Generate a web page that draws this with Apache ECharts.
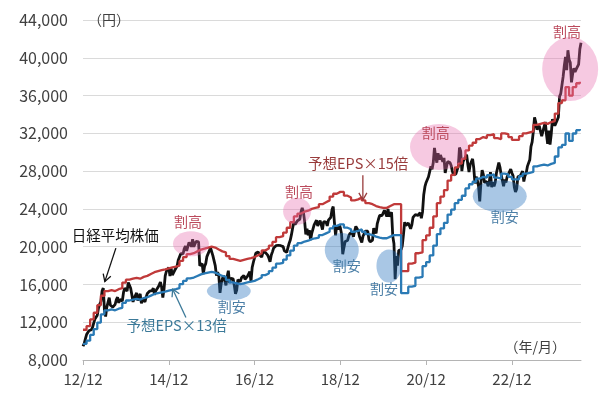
<!DOCTYPE html>
<html>
<head>
<meta charset="utf-8">
<script src="https://cdn.jsdelivr.net/npm/echarts@6/dist/echarts.min.js"></script>
<style>
  html, body { margin: 0; padding: 0; background: #fff; }
  #chart { width: 600px; height: 399px; }
</style>
</head>
<body>
<div id="chart"></div>
<script>
// 横軸は 2012年12月 = 0 とした月数
const xTickLabels = ['12/12', '14/12', '16/12', '18/12', '20/12', '22/12'];
const monthsShown = 139.33;

// 日経平均株価（1か月3点：上旬・中旬・下旬）
const nikkeiPerMonth = 3;
const nikkei = [
  9450, 9740, 10230,
  10690, 10880, 11100, 11250, 11200, 11450, 11650, 12350, 12500, 12750, 13500, 13900,
  14200, 15300, 15620, 13300, 12600, 13600, 14100, 14600, 13800, 13900, 13600, 13400,
  13900, 14400, 14650, 14050, 14400, 14350, 14250, 15150, 15620, 15650, 15300, 16200,
  15900, 15600, 14900, 14150, 14550, 14850, 15100, 14300, 14700, 15000, 14000, 14450,
  14450, 14150, 14650, 15050, 14950, 15300, 15400, 15350, 15600, 14900, 15300, 15500,
  15700, 15950, 16250, 15700, 14600, 15500, 16900, 17400, 17300, 17800, 16900, 17700,
  17000, 17100, 17500, 17600, 17950, 18600, 18800, 19250, 19450, 19250, 19800, 20050,
  19550, 19750, 20450, 20500, 20000, 20800, 20000, 20300, 20550, 20550, 20500, 18000,
  17800, 18200, 17100, 17900, 18200, 18950, 19100, 19550, 19900, 19950, 19050, 18950,
  18000, 16950, 17300, 16900, 15100, 16100, 16600, 16950, 16950, 15900, 16850, 17450,
  16150, 16650, 16850, 16600, 15900, 15000, 15400, 16500, 16600, 16300, 16700, 16550,
  16950, 16550, 16600, 16850, 17050, 17350, 16300, 17800, 18350, 18500, 19300, 19420,
  19450, 19150, 19050, 18900, 19400, 19300, 19400, 19550, 19100, 18800, 18400, 19100,
  19450, 19850, 19700, 20100, 19900, 20150, 20050, 20100, 20000, 20000, 19550, 19450,
  19400, 19900, 20350, 20700, 21300, 22000, 22600, 22350, 22550, 22750, 22800, 22900,
  23700, 24100, 23650, 22700, 21300, 21900, 21200, 21750, 20700, 21400, 21850, 22300,
  22500, 22800, 22200, 22500, 22750, 22300, 21800, 22650, 22550, 22600, 22200, 22800,
  22700, 23100, 23900, 24250, 22600, 21200, 22250, 21800, 22350, 22000, 21350, 19200,
  19900, 20550, 20750, 20650, 21100, 21400, 21550, 21450, 21050, 21650, 22150, 22250,
  21700, 21100, 21100, 20450, 21100, 21250, 21650, 21500, 21650, 20750, 20500, 20700,
  20700, 21950, 21850, 21400, 22450, 22900, 23300, 23400, 23300, 23350, 23850, 23650,
  23200, 24000, 23200, 23300, 23650, 21100, 20300, 16550, 19000, 18000, 19600, 19400,
  19700, 20100, 21300, 22600, 22250, 22300, 22500, 22700, 21900, 22300, 23100, 23000,
  23400, 23350, 23300, 23300, 23600, 23000, 23700, 25500, 26350, 26800, 26700, 27400,
  27500, 28500, 28200, 28900, 30450, 29500, 28900, 29900, 29200, 29700, 29650, 29000,
  29400, 27800, 28400, 29000, 29200, 28900, 28600, 28000, 27600, 27700, 27700, 27650,
  28500, 30500, 30100, 28000, 29000, 28900, 29500, 29750, 28700, 27900, 28700, 28800,
  29300, 28300, 26700, 27400, 27000, 26400, 24800, 26800, 28100, 27650, 26800, 26600,
  26900, 26400, 26800, 27900, 26300, 26800, 26400, 26800, 27800, 27900, 28900, 28400,
  27600, 27800, 26400, 27100, 26800, 27400, 27600, 27950, 28200, 27800, 27500, 26300,
  25800, 26100, 27400, 27500, 27500, 27400, 28000, 26900, 27500, 27800, 28500, 28600,
  29200, 30600, 31100, 32200, 33700, 33200, 32400, 32500, 32800, 32200, 31700, 32200,
  32700, 33200, 31900, 30900, 32300, 30800, 31900, 33500, 33400, 32800, 32700, 33400,
  33700, 35900, 36200, 36200, 38000, 39200, 40100, 38700, 40800, 39800, 39500, 37400,
  38300, 38900, 38500, 38800, 38600, 39300, 40900, 41600
];

// 日経平均の予想EPS（月次、円）
const eps = [
  747,
  773, 820, 867, 920, 987, 1020, 1027, 1020, 1033, 1040, 1080, 1100,
  1107, 1113, 1107, 1120, 1127, 1140, 1153, 1160, 1167, 1173, 1180, 1187,
  1193, 1200, 1233, 1260, 1280, 1287, 1300, 1313, 1320, 1327, 1333, 1327,
  1313, 1300, 1293, 1267, 1247, 1240, 1233, 1240, 1247, 1253, 1260, 1273,
  1287, 1307, 1320, 1340, 1367, 1400, 1407, 1433, 1467, 1507, 1547, 1567,
  1580, 1587, 1600, 1607, 1613, 1633, 1647, 1660, 1687, 1707, 1720, 1720,
  1693, 1680, 1660, 1667, 1680, 1660, 1640, 1633, 1620, 1613, 1607, 1607,
  1620, 1633, 1633, 1633, 1160, 1160, 1213, 1220, 1287, 1293, 1380, 1413,
  1467, 1547, 1640, 1687, 1733, 1800, 1840, 1893, 1920, 1953, 2013, 2047,
  2067, 2093, 2107, 2100, 2120, 2127, 2100, 2093, 2133, 2127, 2107, 2087,
  2087, 2113, 2133, 2140, 2147, 2193, 2200, 2207, 2200, 2213, 2220, 2273,
  2347, 2367, 2460, 2400, 2460, 2487, 2497
];
const perHigh = 15;
const perLow = 13;

// 注記（データ座標：月, 円）
const highSpots = [
  { m: 30.2, v: 20300, rx: 18, ry: 12.5, lm: 29.4, lv: 22600 },
  { m: 59.9, v: 23760, rx: 14, ry: 13.5, lm: 60.4, lv: 25770 },
  { m: 99.6, v: 30540, rx: 29, ry: 23, lm: 98.7, lv: 32020 },
  { m: 136.3, v: 38800, rx: 28, ry: 32, lm: 135.4, lv: 42800 }
];
const lowSpots = [
  { m: 40.8, v: 15300, rx: 22, ry: 9.5, lm: 41.6, lv: 13600 },
  { m: 72.4, v: 19640, rx: 17, ry: 17, lm: 73.8, lv: 17950 },
  { m: 85.6, v: 17950, rx: 12.5, ry: 16.5, lm: 84.2, lv: 15600 },
  { m: 116.6, v: 25350, rx: 27, ry: 16, lm: 118, lv: 23130 }
];

const FONT = '"Noto Sans CJK JP", "Noto Sans", sans-serif';

let chart = echarts.init(document.getElementById('chart'));

let option = {
  animation: false,
  backgroundColor: '#fff',
  grid: { left: 83, right: 19, top: 20, bottom: 39 },
  xAxis: {
    type: 'value',
    min: 0,
    max: monthsShown,
    interval: 24,
    axisLine: { lineStyle: { color: '#b4b4b4', width: 1 } },
    axisTick: { show: true, length: 5, lineStyle: { color: '#b4b4b4' } },
    splitLine: { show: false },
    axisLabel: {
      margin: 12,
      color: '#404040',
      fontSize: 15,
      fontFamily: FONT,
      showMaxLabel: false,
      formatter: v => xTickLabels[Math.round(v / 24)] || '',
    },
  },
  yAxis: {
    type: 'value',
    min: 8000,
    max: 44000,
    interval: 4000,
    axisLine: { show: false },
    axisTick: { show: false },
    splitLine: { lineStyle: { color: '#dadada', width: 1 } },
    axisLabel: {
      margin: 15,
      color: '#404040',
      fontSize: 16,
      fontFamily: FONT,
      formatter: v => v.toLocaleString('en-US'),
    },
  },
  series: [
    {
      name: '日経平均株価',
      type: 'line',
      symbol: 'none',
      data: nikkei.map((v, i) => [i / nikkeiPerMonth, v]),
      lineStyle: { color: '#111', width: 2.8 },
      z: 2,
    },
    {
      name: '予想EPS×15倍',
      type: 'line',
      symbol: 'none',
      step: 'end',
      data: eps.map((v, i) => [i, v * perHigh]),
      lineStyle: { color: '#c03a3a', width: 2.3 },
      z: 3,
    },
    {
      name: '予想EPS×13倍',
      type: 'line',
      symbol: 'none',
      step: 'end',
      data: eps.map((v, i) => [i, v * perLow]),
      lineStyle: { color: '#2a7ab5', width: 2.3 },
      z: 4,
    },
  ],
};
chart.setOption(option);

// 注記（丸・文字・矢印）
function px(m, v) {
  return chart.convertToPixel({ gridIndex: 0 }, [m, v]);
}

function spot(s, fill) {
  let p = px(s.m, s.v);
  return {
    type: 'circle',
    x: p[0],
    y: p[1],
    scaleY: s.ry / s.rx,
    shape: { cx: 0, cy: 0, r: s.rx },
    style: { fill: fill },
    z: 100,
    silent: true,
  };
}

function label(text, m, v, color, size, align) {
  let p = px(m, v);
  return {
    type: 'text',
    x: p[0],
    y: p[1],
    style: {
      text: text,
      fill: color,
      font: size + 'px ' + FONT,
      textAlign: align || 'center',
      textVerticalAlign: 'middle',
    },
    z: 110,
    silent: true,
  };
}

function arrow(m1, v1, m2, v2, color) {
  let a = px(m1, v1);
  let b = px(m2, v2);
  let dx = b[0] - a[0];
  let dy = b[1] - a[1];
  let len = Math.sqrt(dx * dx + dy * dy);
  let ux = dx / len;
  let uy = dy / len;
  let h = 7;
  let w = 4;
  return [
    {
      type: 'line',
      shape: { x1: a[0], y1: a[1], x2: b[0], y2: b[1] },
      style: { stroke: color, lineWidth: 1.3 },
      z: 110,
      silent: true,
    },
    {
      type: 'polyline',
      shape: {
        points: [
          [b[0] - ux * h - uy * w, b[1] - uy * h + ux * w],
          [b[0], b[1]],
          [b[0] - ux * h + uy * w, b[1] - uy * h - ux * w],
        ],
      },
      style: { stroke: color, lineWidth: 1.3, fill: null },
      z: 110,
      silent: true,
    },
  ];
}

let pinkFill = 'rgba(230,105,172,0.36)';
let blueFill = 'rgba(40,114,190,0.40)';
let highColor = '#bb4a5c';
let lowColor = '#4a7ea6';

let elements = [];
highSpots.forEach(s => {
  elements.push(spot(s, pinkFill));
  elements.push(label('割高', s.lm, s.lv, highColor, 14));
});
lowSpots.forEach(s => {
  elements.push(spot(s, blueFill));
  elements.push(label('割安', s.lm, s.lv, lowColor, 14));
});

elements.push(label('日経平均株価', 9.0, 21200, '#111', 14.5));
elements = elements.concat(arrow(9.2, 19850, 6.1, 16300, '#111'));
elements.push(label('予想EPS×13倍', 26.2, 11700, '#3c7a99', 14.5));
elements = elements.concat(arrow(28.8, 12500, 25.1, 15500, '#3c7a99'));
elements.push(label('予想EPS×15倍', 77.0, 28850, '#993c3c', 14.5));
elements = elements.concat(arrow(78.3, 27550, 78.3, 24950, '#993c3c'));

elements.push({
  type: 'text',
  x: 88,
  y: 20,
  style: { text: '（円）', fill: '#404040', font: '14px ' + FONT, textAlign: 'left', textVerticalAlign: 'middle' },
  silent: true,
});
elements.push({
  type: 'text',
  x: 566,
  y: 347,
  style: { text: '（年/月）', fill: '#404040', font: '14px ' + FONT, textAlign: 'right', textVerticalAlign: 'middle' },
  silent: true,
});

chart.setOption({ graphic: elements });
</script>
</body>
</html>
